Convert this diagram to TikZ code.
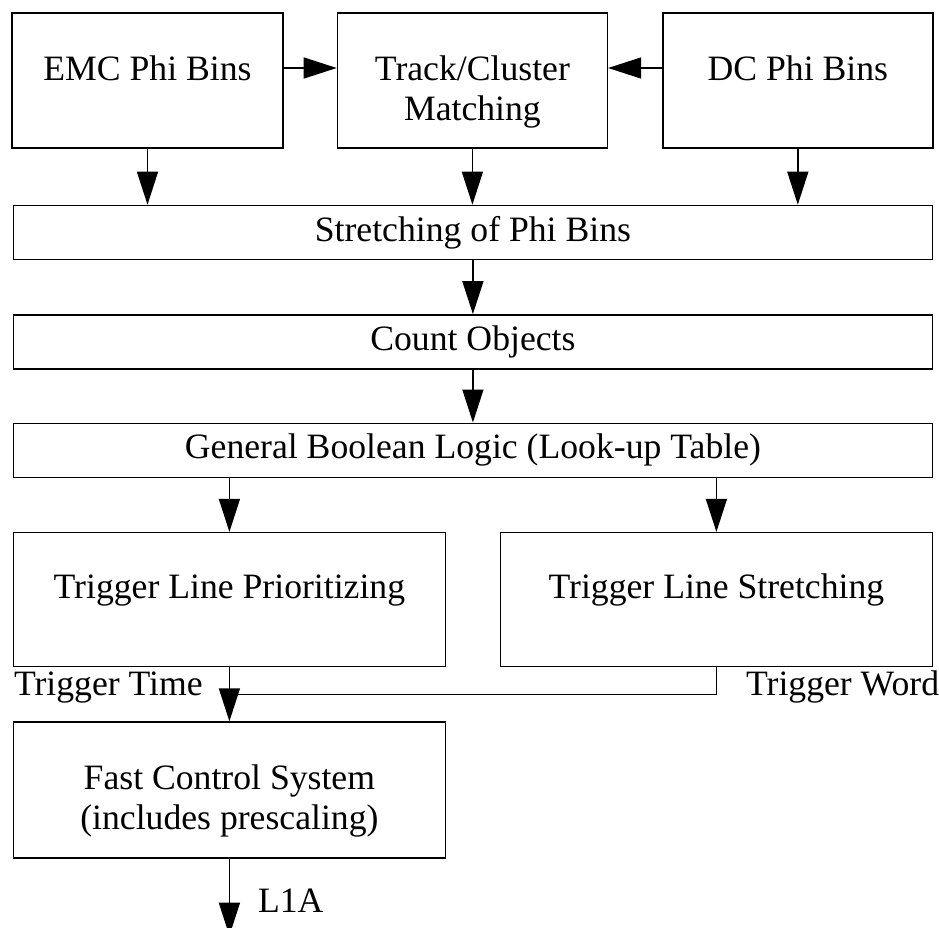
\documentclass[tikz,border=0pt]{standalone}
\usepackage{fontspec}
\setmainfont{Liberation Serif}
\usetikzlibrary{positioning, arrows.meta}

\begin{document}
\begin{tikzpicture}[
    >={Triangle[length=0.66cm, width=0.42cm]},
    line width=0.8pt,
    font=\fontsize{20.3pt}{22.8pt}\selectfont,
    % Styles
    block/.style={
        draw, rectangle, inner sep=0pt,
        minimum width=5.40cm, minimum height=2.70cm
    },
    wideblock/.style={
        draw, rectangle, inner sep=0pt,
        minimum width=18.38cm, minimum height=1.08cm
    },
    halfblock/.style={
        draw, rectangle, inner sep=0pt,
        minimum width=8.64cm, minimum height=2.68cm
    },
    blocktext/.style={anchor=north, inner sep=0pt, align=center},
    sidetext/.style={inner sep=0pt}
  ]
    \useasboundingbox (0,0) rectangle (18.78,-18.56);

    % --- Top row of boxes ---
    \node (emc)   [block, minimum width=5.42cm] at (2.95,-1.61) {};
    \node (match) [block, right=1.06cm of emc] {};
    \node (dc)    [block, right=1.08cm of match] {};

    % --- Wide stages ---
    \node (stretch) [wideblock, below=1.12cm of match, xshift=0.01cm] {Stretching of Phi Bins};
    \node (count)   [wideblock, below=1.08cm of stretch] {Count Objects};
    \node (bool)    [wideblock, below=1.06cm of count] {General Boolean Logic (Look-up Table)};

    % --- Trigger line boxes ---
    \node (prio)  [halfblock, below=1.08cm of bool.south west, anchor=north west] {};
    \node (strch) [halfblock, below=1.08cm of bool.south east, anchor=north east] {};
    \node (fcs)   [halfblock, minimum height=2.72cm, below=1.08cm of prio] {};

    % --- Box texts ---
    \node[blocktext] at ([yshift=-0.78cm]emc.north) {\strut EMC Phi Bins};
    \node[blocktext] at ([yshift=-0.78cm]match.north) {\strut Track/Cluster\\Matching};
    \node[blocktext] at ([yshift=-0.78cm]dc.north) {\strut DC Phi Bins};
    \node[blocktext] at ([yshift=-0.76cm]prio.north) {\strut Trigger Line Prioritizing};
    \node[blocktext] at ([yshift=-0.76cm]strch.north) {\strut Trigger Line Stretching};
    \node[blocktext] at ([yshift=-0.78cm]fcs.north) {\strut Fast Control System\\(includes prescaling)};

    % --- Flow ---
    \draw[->] ([yshift=0.25cm]emc.east) -- ([yshift=0.25cm]match.west);
    \draw[->] ([yshift=0.25cm]dc.west) -- ([yshift=0.25cm]match.east);
    \draw[->] (emc.south) -- (emc.south |- stretch.north);
    \draw[->] (match.south) -- (match.south |- stretch.north);
    \draw[->] (dc.south) -- (dc.south |- stretch.north);
    \draw[->] (stretch.south) -- (count.north);
    \draw[->] (count.south) -- (bool.north);
    \draw[->] (prio.north |- bool.south) -- (prio.north);
    \draw[->] (strch.north |- bool.south) -- (strch.north);

    % --- Trigger time / word merge ---
    \coordinate (join) at ([yshift=-0.54cm]prio.south);
    \coordinate (turn) at (strch.south |- join);
    \draw (strch.south) -- (turn) -- (join);
    \draw[->] (prio.south) -- (fcs.north);
    \node[sidetext, anchor=base east] at ([xshift=-0.52cm, yshift=-0.02cm]join) {Trigger Time};
    \node[sidetext, anchor=base west] at ([xshift=0.58cm, yshift=-0.02cm]turn) {Trigger Word};

    % --- Output ---
    \coordinate (l1a_end) at ([yshift=-1.54cm]fcs.south);
    \draw[->] (fcs.south) -- (l1a_end);
    \node[sidetext, anchor=base west] at ([xshift=0.56cm, yshift=-1.08cm]fcs.south) {L1A};

\end{tikzpicture}
\end{document}
